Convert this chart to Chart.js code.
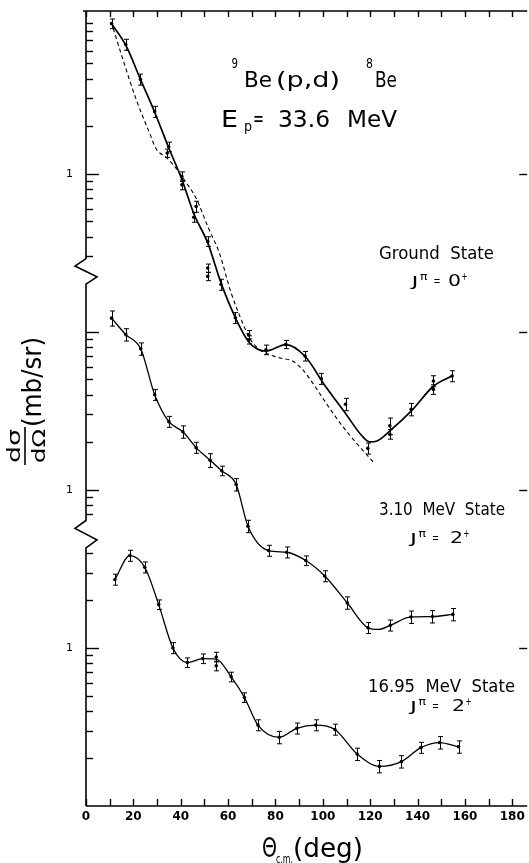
<!DOCTYPE html>
<html>
<head>
<meta charset="utf-8">
<script src="https://cdn.jsdelivr.net/npm/chart.js@4.4.1/dist/chart.umd.min.js"></script>
<style>
  html, body { margin: 0; padding: 0; background: #fff; }
  #wrap { position: relative; width: 529px; height: 863px; }
</style>
</head>
<body>
<div id="wrap"><canvas id="c"></canvas></div>
<script>
'use strict';

// ── Data: dσ/dΩ (mb/sr) against θ c.m. (deg) ────────────────────────────────
// Ground state, J = 0+
const gsAngle = [10.8, 16.8, 23.0, 29.0, 34.3, 34.9, 40.5, 40.5, 45.5, 46.5, 51.4, 51.4, 51.4, 57.0, 63.1,
                 68.7, 68.7, 76.0, 84.4, 92.5, 99.4, 109.6, 119.0, 128.3, 128.3, 137.3, 146.7, 146.7, 154.6];
const gsXsec  = [8.9, 6.56, 3.95, 2.47, 1.35, 1.48, 0.96, 0.85, 0.53, 0.62, 0.373, 0.253, 0.224, 0.199, 0.1225,
                 0.096, 0.089, 0.077, 0.0832, 0.0702, 0.0505, 0.0348, 0.0183, 0.0254, 0.0225, 0.0323, 0.0488, 0.0432, 0.0525];
const gsErr   = [0.07, 0.08, 0.08, 0.08, 0.06, 0.07, 0.07, 0.07, 0.07, 0.08, 0.07, 0.06, 0.06, 0.08, 0.08,
                 0.06, 0.06, 0.07, 0.06, 0.07, 0.08, 0.09, 0.08, 0.12, 0.07, 0.09, 0.08, 0.07, 0.08];
// solid fit and dashed calculation for the ground state
const gsFitAngle  = [10.8, 16.8, 23, 29, 35, 40.5, 45.5, 51.4, 57, 63.4, 69, 76, 84.4, 92.5, 100.5, 109.6,
                     116.6, 119.8, 122.9, 128.3, 137.4, 146.8, 154.5];
const gsFit       = [8.9, 6.5, 3.95, 2.45, 1.45, 0.92, 0.56, 0.365, 0.204, 0.12, 0.0853, 0.0755, 0.083, 0.070, 0.0466, 0.0304,
                     0.0219, 0.0201, 0.0204, 0.0236, 0.0316, 0.0454, 0.0525];
const gsDwbaAngle = [11.5, 15.7, 21.3, 26.9, 29.7, 33.9, 38.1, 40.9, 46.5, 51.4, 56.3, 61.3, 66.1, 68.9, 73.2,
                     81.6, 87.2, 91.4, 95.6, 101.2, 108.2, 115.2, 121.5];
const gsDwba      = [8.3, 5.22, 2.92, 1.80, 1.43, 1.27, 1.08, 0.94, 0.70, 0.464, 0.315, 0.176, 0.114, 0.092, 0.0773,
                     0.0685, 0.0653, 0.0578, 0.0477, 0.0357, 0.0254, 0.0190, 0.0149];

// 3.10 MeV state, J = 2+
const s310Angle = [10.8, 16.8, 23.1, 29.0, 35.0, 40.9, 46.5, 52.4, 57.3, 63.4, 68.4, 77.1, 84.7, 92.8, 100.8,
                   110.3, 119.1, 128.5, 137.2, 146.3, 154.9];
const s310Xsec  = [12.2, 9.6, 7.8, 4.0, 2.7, 2.33, 1.85, 1.54, 1.32, 1.08, 0.589, 0.413, 0.403, 0.357, 0.285,
                   0.193, 0.134, 0.139, 0.157, 0.158, 0.163];
const s310Err   = [0.11, 0.09, 0.09, 0.08, 0.08, 0.09, 0.08, 0.10, 0.07, 0.09, 0.09, 0.08, 0.08, 0.07, 0.08,
                   0.09, 0.08, 0.08, 0.09, 0.09, 0.09];
const s310FitAngle = [10.8, 16.8, 23.1, 29.0, 35.0, 40.9, 46.5, 52.4, 57.3, 63.4, 68.4, 77.1, 84.7, 92.8, 100.8,
                      110.3, 119.1, 123.6, 128.5, 137.2, 146.3, 154.9];
const s310Fit      = [12.2, 9.6, 7.8, 4.0, 2.7, 2.33, 1.85, 1.54, 1.32, 1.08, 0.589, 0.413, 0.403, 0.357, 0.285,
                      0.193, 0.134, 0.131, 0.139, 0.157, 0.158, 0.163];

// 16.95 MeV state, J = 2+
const s1695Angle = [12.2, 18.5, 24.8, 30.7, 36.7, 42.8, 49.3, 55.0, 55.0, 61.3, 66.9, 72.6, 81.6, 89.0, 97.0,
                    105.1, 114.5, 123.9, 133.2, 141.4, 149.3, 157.3];
const s1695Xsec  = [2.71, 3.84, 3.24, 1.88, 1.00, 0.808, 0.856, 0.877, 0.770, 0.656, 0.486, 0.325, 0.272, 0.310, 0.325,
                    0.305, 0.213, 0.178, 0.191, 0.234, 0.252, 0.237];
const s1695Err   = [0.08, 0.08, 0.08, 0.07, 0.08, 0.07, 0.07, 0.07, 0.07, 0.07, 0.07, 0.08, 0.09, 0.08, 0.08,
                    0.08, 0.09, 0.09, 0.09, 0.08, 0.09, 0.09];
const s1695FitAngle = [12.2, 18.5, 24.8, 30.7, 36.7, 42.8, 49.3, 55.0, 61.3, 66.9, 72.6, 81.6, 89.0, 97.0,
                       105.1, 114.5, 123.9, 133.2, 141.4, 149.3, 157.3];
const s1695Fit      = [2.71, 3.84, 3.24, 1.88, 1.00, 0.808, 0.856, 0.85, 0.656, 0.486, 0.325, 0.272, 0.310, 0.325,
                       0.305, 0.213, 0.178, 0.191, 0.234, 0.252, 0.237];

// ── Axis set-up ──────────────────────────────────────────────────────────────
// one log axis, each state sits in its own window shifted by whole decades
const GS_SHIFT = 1000, S310_SHIFT = 10, S1695_SHIFT = 1;
const gsTicks    = [0.3, 0.4, 0.5, 0.6, 0.7, 0.8, 0.9, 1, 2, 3, 4, 5, 6, 7, 8, 9];
const s310Ticks  = [0.7, 0.8, 0.9, 1, 2, 3, 4, 5, 6, 7, 8, 9, 10];
const s1695Ticks = [0.2, 0.3, 0.4, 0.5, 0.6, 0.7, 0.8, 0.9, 1, 2, 3, 4];
const onePositions = [1 * GS_SHIFT, 1 * S310_SHIFT, 1 * S1695_SHIFT];    // where the "1" labels sit
const majorTicks   = [1000, 100, 10, 1];
const axisBreaks   = [[290, 200], [6.4, 4.3]];                            // zig-zags, top -> bottom
const xTicks = [0, 10, 20, 30, 40, 50, 60, 70, 80, 90, 100, 110, 120, 130, 140, 150, 160, 170, 180];

const yTickValues = [
  ...gsTicks.map(v => v * GS_SHIFT),
  ...s310Ticks.map(v => v * S310_SHIFT),
  ...s1695Ticks.map(v => v * S1695_SHIFT),
];

const FONT = '"DejaVu Sans", sans-serif';

function pts(ang, val, shift) { return ang.map((a, i) => ({ x: a, y: val[i] * shift })); }

function pointSet(ang, val, err, shift) {
  return {
    data: pts(ang, val, shift), errs: err, showLine: false,
    pointRadius: 1.8, pointHoverRadius: 1.8, pointBackgroundColor: '#000', pointBorderWidth: 0,
  };
}
function curveSet(ang, val, shift, width, dash) {
  return {
    data: pts(ang, val, shift), showLine: true, pointRadius: 0, pointHoverRadius: 0,
    borderColor: '#000', borderWidth: width, borderDash: dash || [],
    cubicInterpolationMode: 'monotone', fill: false,
  };
}

// ── Plugins ──────────────────────────────────────────────────────────────────
const errorBars = {
  id: 'errorBars',
  afterDatasetsDraw(chart) {
    const { ctx, scales: { y } } = chart;
    ctx.save();
    ctx.strokeStyle = '#000';
    ctx.lineWidth = 1;
    chart.data.datasets.forEach((ds, di) => {
      if (!ds.errs) return;
      chart.getDatasetMeta(di).data.forEach((p, i) => {
        const v  = ds.data[i].y, e = ds.errs[i];
        const px = Math.round(p.x) + 0.5;
        const y1 = y.getPixelForValue(v * (1 + e)), y2 = y.getPixelForValue(v * (1 - e));
        ctx.beginPath();
        ctx.moveTo(px, y1); ctx.lineTo(px, y2);
        ctx.moveTo(px - 2.5, y1); ctx.lineTo(px + 2.5, y1);
        ctx.moveTo(px - 2.5, y2); ctx.lineTo(px + 2.5, y2);
        ctx.stroke();
      });
    });
    ctx.restore();
  }
};

// text squeezed/stretched horizontally to a measured span
function fit(ctx, str, x0, x1, base, size, weight) {
  ctx.font = `${ weight || 'normal' } ${ size }px ${ FONT }`;
  const w = ctx.measureText(str).width;
  ctx.save();
  ctx.translate(x0, base);
  ctx.scale((x1 - x0) / w, 1);
  ctx.fillText(str, 0, 0);
  ctx.restore();
}

function jpi(ctx, x, base, digit, dx) {
  fit(ctx, 'J', x, x + 7, base, 14);
  fit(ctx, 'π', x + 8.5, x + 16, base - 6, 10);
  fit(ctx, '=', x + 22, x + 29, base - 1, 13);
  fit(ctx, digit, dx, dx + 13, base, 15);
  fit(ctx, '+', dx + 13.5, dx + 19.5, base - 6, 10);
}

const frame = {
  id: 'frame',
  afterDraw(chart) {
    const { ctx, chartArea: a, scales: { x, y } } = chart;
    const line = (x0, y0, x1, y1) => { ctx.beginPath(); ctx.moveTo(x0, y0); ctx.lineTo(x1, y1); ctx.stroke(); };
    ctx.save();
    ctx.strokeStyle = '#000';
    ctx.fillStyle = '#000';
    ctx.lineWidth = 1.6;

    // top and bottom borders
    line(a.left - 3, a.top, a.right, a.top);
    line(a.left, a.bottom, a.right, a.bottom);

    // left axis with breaks
    ctx.beginPath();
    ctx.moveTo(a.left, a.top);
    axisBreaks.forEach(([hi, lo]) => {
      const y0 = y.getPixelForValue(hi), y1 = y.getPixelForValue(lo), h = y1 - y0;
      ctx.lineTo(a.left, y0);
      ctx.lineTo(a.left - 11, y0 + h * 0.29);
      ctx.lineTo(a.left + 11, y0 + h * 0.71);
      ctx.lineTo(a.left, y1);
    });
    ctx.lineTo(a.left, a.bottom);
    ctx.stroke();

    // x ticks, bottom and top, pointing inward
    ctx.lineWidth = 1.4;
    xTicks.forEach(v => {
      const px = Math.round(x.getPixelForValue(v)) + 0.5;
      line(px, a.bottom, px, a.bottom - 7);
      line(px, a.top, px, a.top + 6);
    });

    // y ticks
    yTickValues.forEach(v => {
      const py = Math.round(y.getPixelForValue(v)) + 0.5;
      line(a.left, py, a.left + (majorTicks.includes(v) ? 13 : 7), py);
    });
    majorTicks.forEach(v => {
      const py = Math.round(y.getPixelForValue(v)) + 0.5;
      line(a.right - 8, py, a.right, py);
    });

    // reaction and beam energy
    fit(ctx, '9', 231.5, 238, 68, 14);
    fit(ctx, 'Be', 244, 272, 87, 22);
    fit(ctx, '(p,d)', 276, 340, 87, 22);
    fit(ctx, '8', 366, 373, 68, 14);
    fit(ctx, 'Be', 375, 397, 87, 22);

    fit(ctx, 'E', 221, 238, 127, 23);
    fit(ctx, 'p', 244, 252, 131, 14);
    fit(ctx, '=', 253, 264, 126, 22);
    fit(ctx, '33.6', 278, 330, 127, 23);
    fit(ctx, 'MeV', 347, 397, 127, 23);

    // state labels
    fit(ctx, 'Ground  State', 379, 494, 259, 18);
    jpi(ctx, 411.5, 286, '0', 448);
    fit(ctx, '3.10  MeV  State', 379, 505, 515, 18);
    jpi(ctx, 410, 543, '2', 450);
    fit(ctx, '16.95  MeV  State', 368, 515, 692, 17);
    jpi(ctx, 410, 711, '2', 452);

    // x title
    fit(ctx, 'Θ', 262, 277, 857, 27);
    fit(ctx, 'c.m.', 276, 293, 863, 12);
    fit(ctx, '(deg)', 293, 363, 857, 26);

    // y title, rotated (local x = 470 - screen y, local y = screen x)
    ctx.translate(0, 470);
    ctx.rotate(-Math.PI / 2);
    fit(ctx, 'dσ', 7, 41, 20, 18);
    fit(ctx, 'dΩ', 7, 41, 45, 18);
    ctx.lineWidth = 1.6;
    line(5, 25, 43, 25);
    fit(ctx, '(mb/sr)', 43, 133, 41, 26);
    ctx.restore();
  }
};

// ── Chart ────────────────────────────────────────────────────────────────────
new Chart(document.getElementById('c'), {
  type: 'scatter',
  data: {
    datasets: [
      curveSet(gsFitAngle, gsFit, GS_SHIFT, 1.7),
      curveSet(gsDwbaAngle, gsDwba, GS_SHIFT, 1.1, [4, 3]),
      pointSet(gsAngle, gsXsec, gsErr, GS_SHIFT),
      curveSet(s310FitAngle, s310Fit, S310_SHIFT, 1.3),
      pointSet(s310Angle, s310Xsec, s310Err, S310_SHIFT),
      curveSet(s1695FitAngle, s1695Fit, S1695_SHIFT, 1.3),
      pointSet(s1695Angle, s1695Xsec, s1695Err, S1695_SHIFT),
    ]
  },
  options: {
    responsive: true,
    maintainAspectRatio: false,
    devicePixelRatio: 1,
    animation: false,
    layout: { padding: { top: 11, right: 0, left: 0, bottom: 0 } },
    plugins: { legend: { display: false }, tooltip: { enabled: false } },
    scales: {
      x: {
        type: 'linear', min: 0, max: 186.3,
        afterBuildTicks: s => { s.ticks = xTicks.map(v => ({ value: v })); },
        afterFit: s => { s.height = 57; s.paddingLeft = 0; s.paddingRight = 0; },
        grid: { display: false, drawTicks: false },
        border: { display: false },
        ticks: {
          autoSkip: false, maxRotation: 0, padding: 4, color: '#000',
          font: { family: FONT, size: 12, weight: 'bold' },
          callback: v => (v % 20 === 0 ? String(v) : ''),
        },
      },
      y: {
        type: 'logarithmic', min: 0.1, max: 10700,
        afterBuildTicks: s => { s.ticks = yTickValues.map(v => ({ value: v })); },
        afterFit: s => { s.width = 86; s.paddingTop = 0; s.paddingBottom = 0; },
        grid: { display: false, drawTicks: false },
        border: { display: false },
        ticks: {
          autoSkip: false, padding: 13, color: '#000',
          font: { family: FONT, size: 11 },
          callback: v => (onePositions.includes(v) ? '1' : ''),
        },
      },
    },
  },
  plugins: [errorBars, frame],
});
</script>
</body>
</html>
